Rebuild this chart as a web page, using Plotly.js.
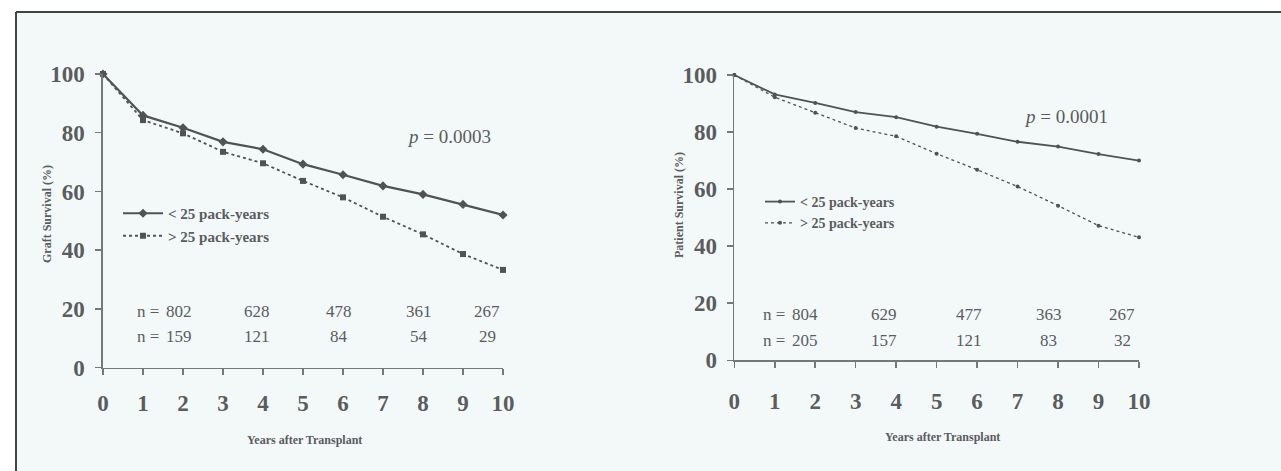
<!DOCTYPE html>
<html>
<head>
<meta charset="utf-8">
<script src="https://cdn.plot.ly/plotly-3.0.1.min.js"></script>
<style>html,body{margin:0;padding:0;background:#fff;}#chart{width:1281px;height:471px;}</style>
</head>
<body>
<div id="chart"></div>
<script>
const years = [0,1,2,3,4,5,6,7,8,9,10];
const seriesNames = ['< 25 pack-years', '> 25 pack-years'];
const graftLow = [100,85.9,81.7,76.9,74.4,69.3,65.7,61.9,59.0,55.6,52.0];
const graftHigh = [100,84.3,79.8,73.5,69.6,63.6,58.0,51.4,45.4,38.7,33.3];
const patientLow = [100,93.2,90.2,87.0,85.2,81.9,79.4,76.6,74.9,72.3,70.0];
const patientHigh = [100,92.2,86.8,81.4,78.5,72.4,66.8,60.9,54.2,47.2,43.1];
const graftNLow = ['802','628','478','361','267'];
const graftNHigh = ['159','121','84','54','29'];
const patientNLow = ['804','629','477','363','267'];
const patientNHigh = ['205','157','121','83','32'];
const graftNX = [1.9,3.85,5.9,7.9,9.6];
const patientNX = [1.75,3.7,5.8,7.77,9.58];
const graftP = '0.0003';
const patientP = '0.0001';

const ink = '#505254';
const txt = '#5a5c5e';
const serif = '"Liberation Serif", "DejaVu Serif", serif';
const bg = '#f3f9f9';

const traces = [
  {x: years, y: graftLow, name: seriesNames[0], xaxis:'x', yaxis:'y', mode:'lines+markers', legend:'legend',
   line:{color:ink, width:2.2}, marker:{symbol:'diamond', size:7, color:ink}, cliponaxis:false},
  {x: years, y: graftHigh, name: seriesNames[1], xaxis:'x', yaxis:'y', mode:'lines+markers', legend:'legend',
   line:{color:ink, width:1.8, dash:'dot'}, marker:{symbol:'square', size:6, color:ink}, cliponaxis:false},
  {x: years, y: patientLow, name: seriesNames[0], xaxis:'x2', yaxis:'y2', mode:'lines+markers', legend:'legend2',
   line:{color:ink, width:1.8}, marker:{symbol:'circle', size:4, color:ink}, cliponaxis:false},
  {x: years, y: patientHigh, name: seriesNames[1], xaxis:'x2', yaxis:'y2', mode:'lines+markers', legend:'legend2',
   line:{color:ink, width:1.3, dash:'dot'}, marker:{symbol:'circle', size:4, color:ink}, cliponaxis:false}
];

const annotations = [];
function nRows(xref, yref, xs, low, high, yLow, yHigh, nx) {
  annotations.push({xref, yref, x:nx, y:yLow, text:'n =', showarrow:false, xanchor:'center', yanchor:'middle', font:{family:serif, size:17, color:txt}});
  annotations.push({xref, yref, x:nx, y:yHigh, text:'n =', showarrow:false, xanchor:'center', yanchor:'middle', font:{family:serif, size:17, color:txt}});
  for (let i = 0; i < xs.length; i++) {
    annotations.push({xref, yref, x:xs[i], y:yLow, text:low[i], showarrow:false, xanchor:'center', yanchor:'middle', font:{family:serif, size:17, color:txt}});
    annotations.push({xref, yref, x:xs[i], y:yHigh, text:high[i], showarrow:false, xanchor:'center', yanchor:'middle', font:{family:serif, size:17, color:txt}});
  }
}
nRows('x','y', graftNX, graftNLow, graftNHigh, 19.0, 10.5, 1.12);
nRows('x2','y2', patientNX, patientNLow, patientNHigh, 15.9, 6.9, 0.98);

annotations.push({xref:'x', yref:'y', x:8.65, y:78.7, text:'<i>p</i> = ' + graftP, showarrow:false, xanchor:'center', yanchor:'middle', font:{family:serif, size:19, color:txt}});
annotations.push({xref:'x2', yref:'y2', x:8.2, y:85.5, text:'<i>p</i> = ' + patientP, showarrow:false, xanchor:'center', yanchor:'middle', font:{family:serif, size:19, color:txt}});

// axis titles
annotations.push({xref:'paper', yref:'paper', x:47/1281, y:1-214/471, text:'<b>Graft Survival (%)</b>', textangle:-90, showarrow:false, xanchor:'center', yanchor:'middle', font:{family:serif, size:12, color:txt}});
annotations.push({xref:'paper', yref:'paper', x:679/1281, y:1-205/471, text:'<b>Patient Survival (%)</b>', textangle:-90, showarrow:false, xanchor:'center', yanchor:'middle', font:{family:serif, size:12, color:txt}});
annotations.push({xref:'paper', yref:'paper', x:304/1281, y:1-440/471, text:'<b>Years after Transplant</b>', showarrow:false, xanchor:'center', yanchor:'middle', font:{family:serif, size:12, color:txt}});
annotations.push({xref:'paper', yref:'paper', x:942/1281, y:1-437/471, text:'<b>Years after Transplant</b>', showarrow:false, xanchor:'center', yanchor:'middle', font:{family:serif, size:12, color:txt}});

const xCommon = {range:[0,10], tickmode:'array', tickvals:years, ticks:'outside', ticklen:6, tickwidth:1.5, tickcolor:'#777',
  showline:true, linecolor:'#777', linewidth:1.6, showgrid:false, zeroline:false, fixedrange:true,
  tickfont:{family:serif, size:23, color:txt, weight:'bold'}};
const yCommon = {range:[0,100], tickmode:'array', tickvals:[0,20,40,60,80,100], ticks:'outside', ticklen:6, tickwidth:1.5, tickcolor:'#777',
  showline:true, linecolor:'#777', linewidth:1.6, showgrid:false, zeroline:false, fixedrange:true,
  tickfont:{family:serif, size:23, color:txt, weight:'bold'}};

const layout = {
  width:1281, height:471,
  margin:{l:0, r:0, t:0, b:0},
  paper_bgcolor:'#ffffff',
  plot_bgcolor:bg,
  showlegend:true,
  xaxis: Object.assign({}, xCommon, {domain:[103/1281, 503/1281], anchor:'y', ticklabelstandoff:8}),
  yaxis: Object.assign({}, yCommon, {domain:[1-367.7/471, 1-74/471], anchor:'x', ticklabelstandoff:6}),
  xaxis2: Object.assign({}, xCommon, {domain:[734.3/1281, 1139/1281], anchor:'y2', ticklabelstandoff:13}),
  yaxis2: Object.assign({}, yCommon, {domain:[1-360.3/471, 1-75/471], anchor:'x2', ticklabelstandoff:5}),
  legend: {x:118/1281, y:1-197/471, xanchor:'left', yanchor:'top', bgcolor:'rgba(0,0,0,0)', tracegroupgap:4,
    font:{family:serif, size:15, color:txt, weight:'bold'}, itemwidth:40},
  legend2: {x:760/1281, y:1-186/471, xanchor:'left', yanchor:'top', bgcolor:'rgba(0,0,0,0)',
    font:{family:serif, size:14, color:txt, weight:'bold'}, itemwidth:30},
  shapes: [
    {type:'rect', xref:'paper', yref:'paper', x0:16/1281, x1:1.01, y0:-0.01, y1:1-12/471, fillcolor:bg, line:{width:0}, layer:'below'},
    {type:'line', xref:'paper', yref:'paper', x0:16/1281, x1:16/1281, y0:0, y1:1-12/471, line:{color:'#444', width:2}},
    {type:'line', xref:'paper', yref:'paper', x0:16/1281, x1:1, y0:1-12/471, y1:1-12/471, line:{color:'#444', width:2}}
  ],
  annotations: annotations
};

Plotly.newPlot('chart', traces, layout, {displayModeBar:false, staticPlot:true});
</script>
</body>
</html>
